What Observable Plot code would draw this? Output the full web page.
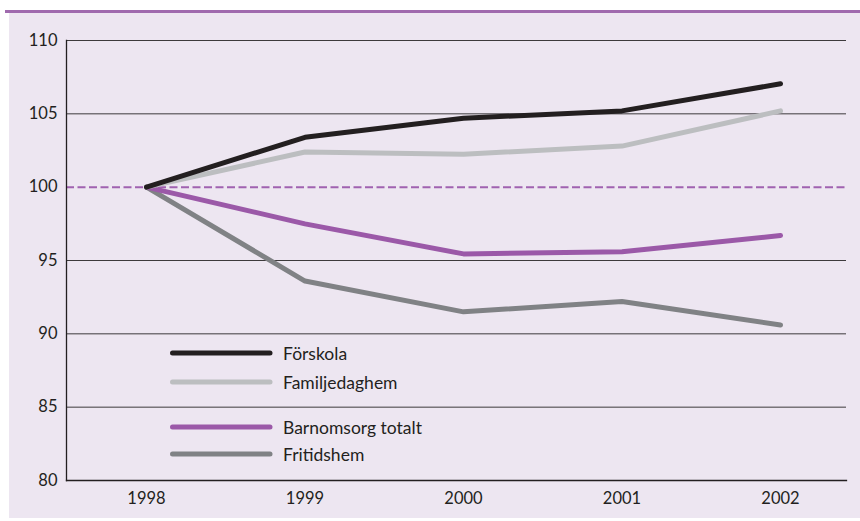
<!DOCTYPE html>
<html>
<head>
<meta charset="utf-8">
<script src="https://cdn.jsdelivr.net/npm/d3@7"></script>
<script src="https://cdn.jsdelivr.net/npm/@observablehq/plot@0.6"></script>
<style>
  body { margin: 0; background: #fff; }
  #wrap { position: relative; width: 860px; height: 521px; overflow: hidden; font-family: Lato, "Open Sans", sans-serif; color: #231f20; }
  #panel { position: absolute; left: 9px; top: 13px; width: 851px; height: 505px; background: #ede6f1; }
  #rule { position: absolute; left: 5px; top: 10px; width: 855px; height: 3px; background: #a06aae; }
  #chart { position: absolute; left: 0; top: 0; }
  #legend { position: absolute; left: 0; top: 0; width: 860px; height: 521px; pointer-events: none; }
  .row { position: absolute; left: 168px; height: 20px; display: flex; align-items: center; font-size: 17.5px; }
  .row svg { margin-right: 9px; }
</style>
</head>
<body>
<div id="wrap">
  <div id="panel"></div>
  <div id="rule"></div>
  <div id="chart"></div>
  <div id="legend"></div>
</div>
<script>
const years = [1998, 1999, 2000, 2001, 2002];
const seriesNames = ["Förskola", "Familjedaghem", "Barnomsorg totalt", "Fritidshem"];
const forskola = [100, 103.4, 104.7, 105.2, 107.05];
const familjedaghem = [100, 102.4, 102.25, 102.8, 105.2];
const barnomsorgTotalt = [100, 97.5, 95.45, 95.6, 96.7];
const fritidshem = [100, 93.6, 91.5, 92.2, 90.6];
const yTicks = [80, 85, 90, 95, 100, 105, 110];
const baseline = 100;
const colors = ["#231f20", "#bcbec0", "#9b59a8", "#808285"];

const valuesBySeries = [forskola, familjedaghem, barnomsorgTotalt, fritidshem];
const drawOrder = [3, 2, 1, 0];
const data = drawOrder.flatMap(i => years.map((y, j) => ({series: seriesNames[i], year: y, value: valuesBySeries[i][j]})));

const chart = Plot.plot({
  width: 860,
  height: 521,
  marginLeft: 66,
  marginRight: 14,
  marginTop: 40,
  marginBottom: 41,
  style: {background: "transparent", fontFamily: "Lato, 'Open Sans', sans-serif", fontSize: "16px", color: "#231f20"},
  x: {type: "linear", domain: [years[0], years[years.length - 1]], range: [146, 780]},
  y: {domain: [yTicks[0], yTicks[yTicks.length - 1]]},
  color: {domain: seriesNames, range: colors},
  marks: [
    Plot.ruleY(yTicks.filter(t => t !== baseline && t !== yTicks[0]), {stroke: "#3d3a3c", strokeWidth: 1}),
    Plot.ruleY([baseline], {stroke: "#a062b0", strokeWidth: 2, strokeDasharray: "8,3.5"}),
    Plot.frame({anchor: "left", stroke: "#231f20", strokeWidth: 1.3}),
    Plot.frame({anchor: "bottom", stroke: "#231f20", strokeWidth: 1.3}),
    Plot.line(data, {x: "year", y: "value", z: "series", stroke: "series", strokeWidth: 5, strokeLinecap: "round", strokeLinejoin: "round"}),
    Plot.axisY({ticks: yTicks, tickSize: 0, tickPadding: 9, label: null, fontSize: 16.5}),
    Plot.axisX({ticks: years, tickFormat: d => String(d), tickSize: 0, tickPadding: 12, label: null, fontSize: 16.5})
  ]
});
document.getElementById("chart").appendChild(chart);

// legend
const legendRows = [
  {name: seriesNames[0], color: colors[0], y: 353},
  {name: seriesNames[1], color: colors[1], y: 382},
  {name: seriesNames[2], color: colors[2], y: 427},
  {name: seriesNames[3], color: colors[3], y: 454}
];
const legend = document.getElementById("legend");
for (const r of legendRows) {
  const row = document.createElement("div");
  row.className = "row";
  row.style.top = (r.y - 10) + "px";
  row.innerHTML = `<svg width="106" height="10"><line x1="4.5" y1="5" x2="102" y2="5" stroke="${r.color}" stroke-width="5" stroke-linecap="round"/></svg><span>${r.name}</span>`;
  legend.appendChild(row);
}
</script>
</body>
</html>
